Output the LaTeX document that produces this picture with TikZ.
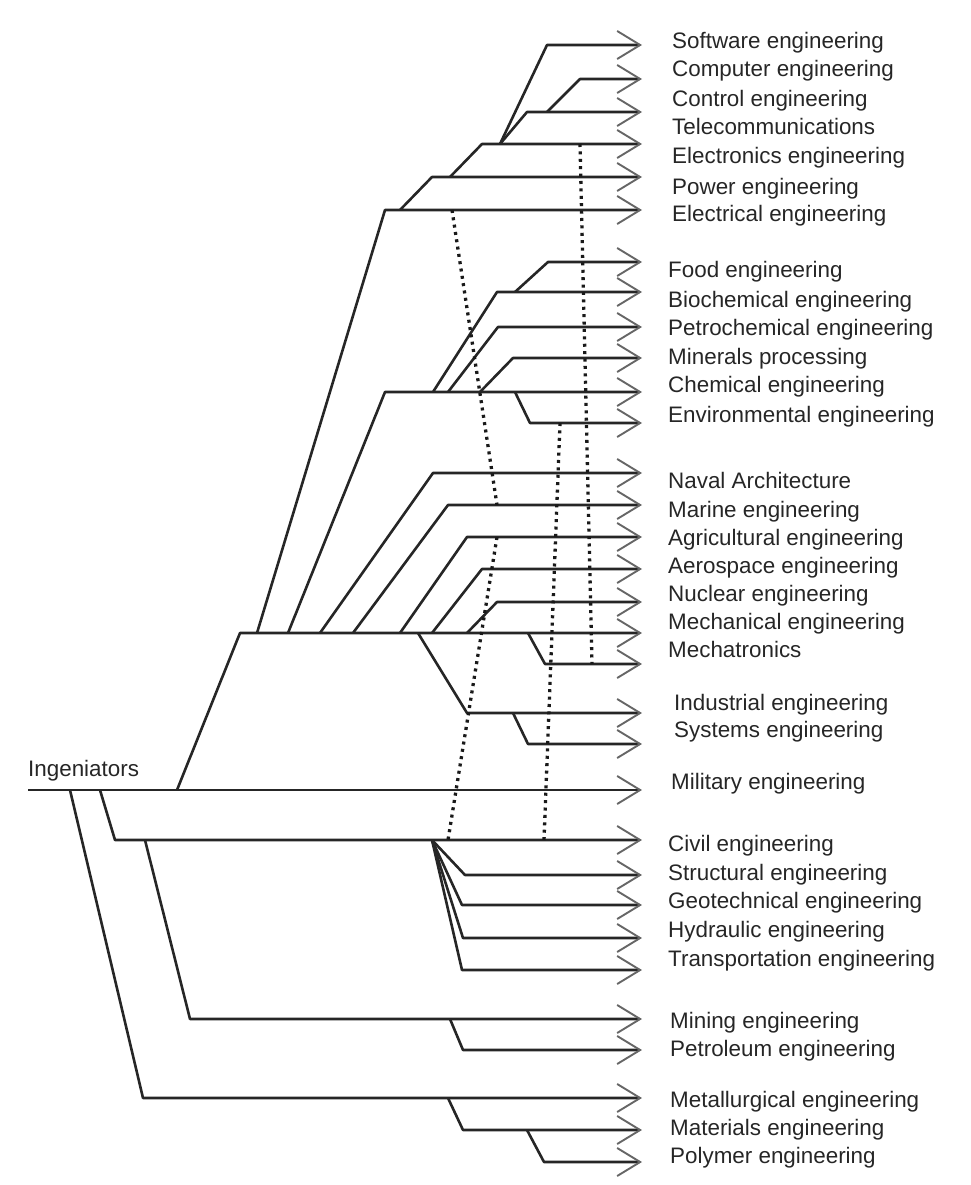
\documentclass[tikz,border=0pt]{standalone}
\usepackage{fontspec}
\setmainfont{Liberation Sans}
\usetikzlibrary{arrows.meta}

\begin{document}
\begin{tikzpicture}[x=1pt,y=-1pt,line join=round,
	br/.style={draw=black!85,line width=2.6pt},
	ar/.style={br,-{Straight Barb[length=23pt,width=28pt,line width=1.9pt,color=black!60]}},
	dots/.style={draw=black!90,line width=3.3pt,dash pattern=on 3pt off 4.4pt},
	lbl/.style={anchor=base west,inner sep=0pt,text=black!85,font=\fontsize{22.4}{25}\selectfont}]
\useasboundingbox (0,0) rectangle (970,1185);

\node[lbl](ing) at (28,776){Ingeniators};

\node[lbl](sw) at (672,49){Software engineering};
\node[lbl](cp) at (672,77){Computer engineering};
\node[lbl](ct) at (672,107){Control engineering};
\node[lbl](tc) at (672,135){Telecommunications};
\node[lbl](ec) at (672,164){Electronics engineering};
\node[lbl](pw) at (672,194){Power engineering};
\node[lbl](el) at (672,222){Electrical engineering};

\node[lbl](fd) at (668,277){Food engineering};
\node[lbl](bc) at (668,307){Biochemical engineering};
\node[lbl](pc) at (668,335){Petrochemical engineering};
\node[lbl](mp) at (668,364){Minerals processing};
\node[lbl](ch) at (668,392){Chemical engineering};
\node[lbl](ev) at (668,422){Environmental engineering};

\node[lbl](nv) at (668,488){Naval Architecture};
\node[lbl](mr) at (668,517){Marine engineering};
\node[lbl](ag) at (668,545){Agricultural engineering};
\node[lbl](as) at (668,573){Aerospace engineering};
\node[lbl](nu) at (668,601){Nuclear engineering};
\node[lbl](me) at (668,629){Mechanical engineering};
\node[lbl](mt) at (668,657){Mechatronics};
\node[lbl](in) at (674,710){Industrial engineering};
\node[lbl](sy) at (674,737){Systems engineering};
\node[lbl](ml) at (671,789){Military engineering};

\node[lbl](cv) at (668,851){Civil engineering};
\node[lbl](st) at (668,880){Structural engineering};
\node[lbl](gt) at (668,908){Geotechnical engineering};
\node[lbl](hy) at (668,937){Hydraulic engineering};
\node[lbl](tr) at (668,966){Transportation engineering};
\node[lbl](mn) at (670,1028){Mining engineering};
\node[lbl](pt) at (670,1056){Petroleum engineering};
\node[lbl](mg) at (670,1107){Metallurgical engineering};
\node[lbl](ma) at (670,1135){Materials engineering};
\node[lbl](po) at (670,1163){Polymer engineering};

\coordinate(tip) at (642,0);
\coordinate(root) at (28,790);
\coordinate(r1) at (70,790);
\coordinate(r2) at (100,790);
\coordinate(r3) at (177,790);

\coordinate(elS) at (385,210);
\coordinate(pwJ) at (400,210);
\coordinate(pwS) at (432,177);
\coordinate(ecJ) at (450,177);
\coordinate(ecS) at (482,144);
\coordinate(tcJ) at (500,144);
\coordinate(tcS) at (527,112);
\coordinate(swS) at (547,45);
\coordinate(cpJ) at (547,112);
\coordinate(cpS) at (580,79);

\coordinate(chS) at (385,392);
\coordinate(bcJ) at (433,392);
\coordinate(bcS) at (497,292);
\coordinate(fdJ) at (515,292);
\coordinate(fdS) at (548,262);
\coordinate(pcJ) at (448,392);
\coordinate(pcS) at (498,327);
\coordinate(mpJ) at (480,392);
\coordinate(mpS) at (513,358);
\coordinate(evJ) at (515,392);
\coordinate(evS) at (530,423);

\coordinate(meS) at (240,633);
\coordinate(k1) at (257,633);
\coordinate(k2) at (288,633);
\coordinate(nvJ) at (320,633);
\coordinate(nvS) at (433,473);
\coordinate(mrJ) at (353,633);
\coordinate(mrS) at (448,505);
\coordinate(agJ) at (400,633);
\coordinate(agS) at (467,537);
\coordinate(inJ) at (418,633);
\coordinate(inS) at (467,713);
\coordinate(asJ) at (432,633);
\coordinate(asS) at (482,569);
\coordinate(nuJ) at (467,633);
\coordinate(nuS) at (497,602);
\coordinate(mtJ) at (528,633);
\coordinate(mtS) at (545,664);
\coordinate(syJ) at (513,713);
\coordinate(syS) at (528,744);

\coordinate(cvS) at (115,840);
\coordinate(csJ) at (432,840);
\coordinate(stS) at (465,875);
\coordinate(gtS) at (462,905);
\coordinate(hyS) at (463,938);
\coordinate(trS) at (462,970);
\coordinate(mnJ) at (145,840);
\coordinate(mnS) at (190,1019);
\coordinate(ptJ) at (450,1019);
\coordinate(ptS) at (463,1050);
\coordinate(mgS) at (143,1098);
\coordinate(maJ) at (448,1098);
\coordinate(maS) at (463,1130);
\coordinate(poJ) at (527,1130);
\coordinate(poS) at (544,1162);

\draw[ar](root)--(root-|tip);
\draw[ar](r3)--(meS)--(meS-|tip);
\draw[ar](r2)--(cvS)--(cvS-|tip);
\draw[ar](r1)--(mgS)--(mgS-|tip);
\draw[ar](mnJ)--(mnS)--(mnS-|tip);
\draw[ar](ptJ)--(ptS)--(ptS-|tip);
\draw[ar](maJ)--(maS)--(maS-|tip);
\draw[ar](poJ)--(poS)--(poS-|tip);
\draw[ar](csJ)--(stS)--(stS-|tip);
\draw[ar](csJ)--(gtS)--(gtS-|tip);
\draw[ar](csJ)--(hyS)--(hyS-|tip);
\draw[ar](csJ)--(trS)--(trS-|tip);

\draw[ar](k1)--(elS)--(elS-|tip);
\draw[ar](pwJ)--(pwS)--(pwS-|tip);
\draw[ar](ecJ)--(ecS)--(ecS-|tip);
\draw[ar](tcJ)--(tcS)--(tcS-|tip);
\draw[ar](tcJ)--(swS)--(swS-|tip);
\draw[ar](cpJ)--(cpS)--(cpS-|tip);

\draw[ar](k2)--(chS)--(chS-|tip);
\draw[ar](bcJ)--(bcS)--(bcS-|tip);
\draw[ar](fdJ)--(fdS)--(fdS-|tip);
\draw[ar](pcJ)--(pcS)--(pcS-|tip);
\draw[ar](mpJ)--(mpS)--(mpS-|tip);
\draw[ar](evJ)--(evS)--(evS-|tip);

\draw[ar](nvJ)--(nvS)--(nvS-|tip);
\draw[ar](mrJ)--(mrS)--(mrS-|tip);
\draw[ar](agJ)--(agS)--(agS-|tip);
\draw[ar](asJ)--(asS)--(asS-|tip);
\draw[ar](nuJ)--(nuS)--(nuS-|tip);
\draw[ar](mtJ)--(mtS)--(mtS-|tip);
\draw[ar](inJ)--(inS)--(inS-|tip);
\draw[ar](syJ)--(syS)--(syS-|tip);

\coordinate(dA) at (452,210);
\coordinate(dA') at (497,505);
\coordinate(dB) at (497,537);
\coordinate(dB') at (448,840);
\coordinate(dC) at (560,423);
\coordinate(dC') at (544,840);
\coordinate(dD) at (580,144);
\coordinate(dD') at (592,664);
\draw[dots](dA)--(dA');
\draw[dots](dB)--(dB');
\draw[dots](dC)--(dC');
\draw[dots](dD)--(dD');

\end{tikzpicture}
\end{document}
